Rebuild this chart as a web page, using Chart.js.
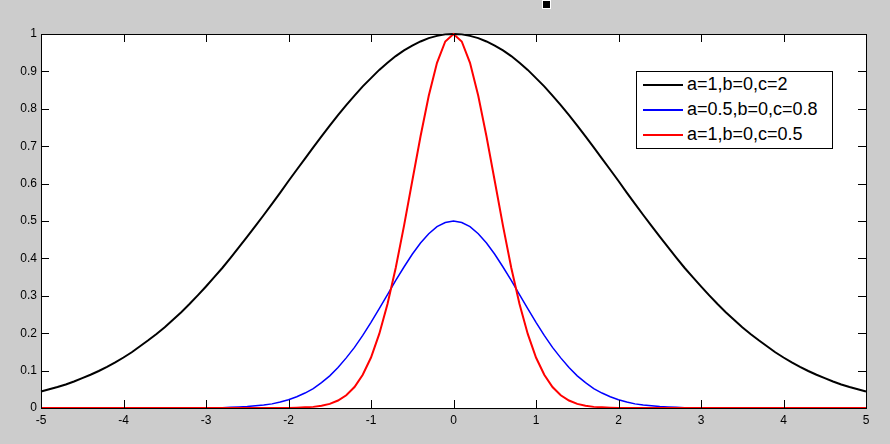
<!DOCTYPE html>
<html>
<head>
<meta charset="utf-8">
<script src="https://cdn.jsdelivr.net/npm/chart.js@4"></script>
<style>
  body { margin: 0; background: #cccccc; }
  #wrap { position: relative; width: 890px; height: 444px; background: #cccccc; overflow: hidden; }
  #dot { position: absolute; left: 542px; top: 0px; width: 7px; height: 7px; background: #000; border: 1px solid #fff; }
  #legend {
    position: absolute; left: 636px; top: 71px; width: 195px; height: 76px;
    background: #fff; border: 1px solid #000;
    font-family: "Liberation Sans", Arial, sans-serif; font-size: 18px; color: #000;
  }
  .row { position: absolute; left: 0; height: 24px; }
  .swatch { position: absolute; left: 6px; top: 11px; width: 40px; height: 2px; }
  .label { position: absolute; left: 50px; top: 1px; white-space: nowrap; }
</style>
</head>
<body>
<div id="wrap">
  <canvas id="gaussChart" width="890" height="444"></canvas>
  <div id="dot"></div>
  <div id="legend"></div>
</div>
<script>
// x positions (step 0.1)
const xValues = [
  -5, -4.9, -4.8, -4.7, -4.6, -4.5, -4.4, -4.3, -4.2, -4.1,
  -4, -3.9, -3.8, -3.7, -3.6, -3.5, -3.4, -3.3, -3.2, -3.1,
  -3, -2.9, -2.8, -2.7, -2.6, -2.5, -2.4, -2.3, -2.2, -2.1,
  -2, -1.9, -1.8, -1.7, -1.6, -1.5, -1.4, -1.3, -1.2, -1.1,
  -1, -0.9, -0.8, -0.7, -0.6, -0.5, -0.4, -0.3, -0.2, -0.1,
  0,
  0.1, 0.2, 0.3, 0.4, 0.5, 0.6, 0.7, 0.8, 0.9, 1,
  1.1, 1.2, 1.3, 1.4, 1.5, 1.6, 1.7, 1.8, 1.9, 2,
  2.1, 2.2, 2.3, 2.4, 2.5, 2.6, 2.7, 2.8, 2.9, 3,
  3.1, 3.2, 3.3, 3.4, 3.5, 3.6, 3.7, 3.8, 3.9, 4,
  4.1, 4.2, 4.3, 4.4, 4.5, 4.6, 4.7, 4.8, 4.9, 5
];

// a=1,b=0,c=2
const blackValues = [
  0.044, 0.050, 0.056, 0.063, 0.071, 0.080, 0.089, 0.099, 0.110, 0.122,
  0.135, 0.149, 0.165, 0.181, 0.198, 0.216, 0.236, 0.256, 0.278, 0.301,
  0.325, 0.350, 0.375, 0.402, 0.430, 0.458, 0.487, 0.516, 0.546, 0.576,
  0.607, 0.637, 0.667, 0.697, 0.726, 0.755, 0.783, 0.810, 0.835, 0.860,
  0.882, 0.904, 0.923, 0.941, 0.956, 0.969, 0.980, 0.989, 0.995, 0.999,
  1,
  0.999, 0.995, 0.989, 0.980, 0.969, 0.956, 0.941, 0.923, 0.904, 0.882,
  0.860, 0.835, 0.810, 0.783, 0.755, 0.726, 0.697, 0.667, 0.637, 0.607,
  0.576, 0.546, 0.516, 0.487, 0.458, 0.430, 0.402, 0.375, 0.350, 0.325,
  0.301, 0.278, 0.256, 0.236, 0.216, 0.198, 0.181, 0.165, 0.149, 0.135,
  0.122, 0.110, 0.099, 0.089, 0.080, 0.071, 0.063, 0.056, 0.050, 0.044
];

// a=0.5,b=0,c=0.8
const blueValues = [
  0, 0, 0, 0, 0, 0, 0, 0, 0, 0,
  0, 0, 0, 0, 0, 0, 0, 0, 0, 0,
  0, 0.001, 0.001, 0.002, 0.003, 0.004, 0.006, 0.008, 0.011, 0.016,
  0.022, 0.030, 0.040, 0.052, 0.068, 0.086, 0.108, 0.134, 0.162, 0.194,
  0.229, 0.266, 0.303, 0.341, 0.377, 0.411, 0.441, 0.466, 0.485, 0.496,
  0.5,
  0.496, 0.485, 0.466, 0.441, 0.411, 0.377, 0.341, 0.303, 0.266, 0.229,
  0.194, 0.162, 0.134, 0.108, 0.086, 0.068, 0.052, 0.040, 0.030, 0.022,
  0.016, 0.011, 0.008, 0.006, 0.004, 0.003, 0.002, 0.001, 0.001, 0,
  0, 0, 0, 0, 0, 0, 0, 0, 0, 0,
  0, 0, 0, 0, 0, 0, 0, 0, 0, 0
];

// a=1,b=0,c=0.5
const redValues = [
  0, 0, 0, 0, 0, 0, 0, 0, 0, 0,
  0, 0, 0, 0, 0, 0, 0, 0, 0, 0,
  0, 0, 0, 0, 0, 0, 0, 0, 0, 0,
  0, 0.001, 0.002, 0.003, 0.006, 0.011, 0.020, 0.034, 0.056, 0.089,
  0.135, 0.198, 0.278, 0.375, 0.487, 0.607, 0.726, 0.835, 0.923, 0.980,
  1,
  0.980, 0.923, 0.835, 0.726, 0.607, 0.487, 0.375, 0.278, 0.198, 0.135,
  0.089, 0.056, 0.034, 0.020, 0.011, 0.006, 0.003, 0.002, 0.001, 0,
  0, 0, 0, 0, 0, 0, 0, 0, 0, 0,
  0, 0, 0, 0, 0, 0, 0, 0, 0, 0,
  0, 0, 0, 0, 0, 0, 0, 0, 0, 0
];

const seriesLabels = ["a=1,b=0,c=2", "a=0.5,b=0,c=0.8", "a=1,b=0,c=0.5"];
const seriesColors = ["#000000", "#0000ff", "#ff0000"];

function toPoints(values) {
  return xValues.map((x, i) => ({ x: x, y: values[i] }));
}

// Box round the plot area and inward ticks on all four sides
const frameTicks = {
  id: "frameTicks",
  afterDraw(chart) {
    const ctx = chart.ctx;
    const a = chart.chartArea;
    const xs = chart.scales.x;
    const ys = chart.scales.y;
    const len = 8;
    ctx.save();
    ctx.strokeStyle = "#000";
    ctx.lineWidth = 1;
    ctx.strokeRect(Math.round(a.left) + 0.5, Math.round(a.top) + 0.5,
      Math.round(a.right - a.left), Math.round(a.bottom - a.top));
    ctx.beginPath();
    xs.ticks.forEach((t) => {
      const px = Math.round(xs.getPixelForValue(t.value)) + 0.5;
      ctx.moveTo(px, a.bottom);
      ctx.lineTo(px, a.bottom - len);
      ctx.moveTo(px, a.top);
      ctx.lineTo(px, a.top + len);
    });
    ys.ticks.forEach((t) => {
      const py = Math.round(ys.getPixelForValue(t.value)) + 0.5;
      ctx.moveTo(a.left, py);
      ctx.lineTo(a.left + len, py);
      ctx.moveTo(a.right, py);
      ctx.lineTo(a.right - len, py);
    });
    ctx.stroke();
    ctx.restore();
  },
};

// Plot area background
const plotBackground = {
  id: "plotBackground",
  beforeDraw(chart) {
    const ctx = chart.ctx;
    const a = chart.chartArea;
    ctx.save();
    ctx.fillStyle = "#cccccc";
    ctx.fillRect(0, 0, chart.width, chart.height);
    ctx.fillStyle = "#ffffff";
    ctx.fillRect(a.left, a.top, a.right - a.left, a.bottom - a.top);
    ctx.restore();
  },
};

const ctx = document.getElementById("gaussChart").getContext("2d");
const gaussChart = new Chart(ctx, {
  type: "line",
  data: {
    datasets: [
      {
        label: seriesLabels[0],
        data: toPoints(blackValues),
        borderColor: seriesColors[0],
        borderWidth: 2,
        order: 2,
      },
      {
        label: seriesLabels[1],
        data: toPoints(blueValues),
        borderColor: seriesColors[1],
        borderWidth: 1.5,
        order: 1,
      },
      {
        label: seriesLabels[2],
        data: toPoints(redValues),
        borderColor: seriesColors[2],
        borderWidth: 2,
        order: 0,
      },
    ],
  },
  options: {
    responsive: false,
    animation: false,
    clip: false,
    elements: {
      point: { radius: 0 },
      line: { tension: 0, fill: false },
    },
    layout: { padding: { left: 0, top: 34, right: 24, bottom: 0 } },
    plugins: {
      legend: { display: false },
      tooltip: { enabled: false },
    },
    scales: {
      x: {
        type: "linear",
        min: -5,
        max: 5,
        grid: { display: false, drawTicks: false },
        border: { display: false },
        afterFit(scale) { scale.height = 36; },
        ticks: {
          stepSize: 1,
          padding: 5,
          color: "#000",
          maxRotation: 0,
          font: { family: "'Liberation Sans', Arial, sans-serif", size: 12 },
        },
      },
      y: {
        type: "linear",
        min: 0,
        max: 1,
        grid: { display: false, drawTicks: false },
        border: { display: false },
        afterFit(scale) { scale.width = 41; },
        ticks: {
          stepSize: 0.1,
          padding: 4,
          color: "#000",
          font: { family: "'Liberation Sans', Arial, sans-serif", size: 12 },
          callback: function (value) {
            return String(Number(value.toFixed(1)));
          },
        },
      },
    },
  },
  plugins: [plotBackground, frameTicks],
});

// Legend box inside the plot
const legend = document.getElementById("legend");
seriesLabels.forEach((label, i) => {
  const row = document.createElement("div");
  row.className = "row";
  row.style.top = 1 + i * 25 + "px";
  row.style.width = "100%";
  row.innerHTML =
    '<div class="swatch" style="background:' + seriesColors[i] + '"></div>' +
    '<div class="label">' + label + "</div>";
  legend.appendChild(row);
});
</script>
</body>
</html>
